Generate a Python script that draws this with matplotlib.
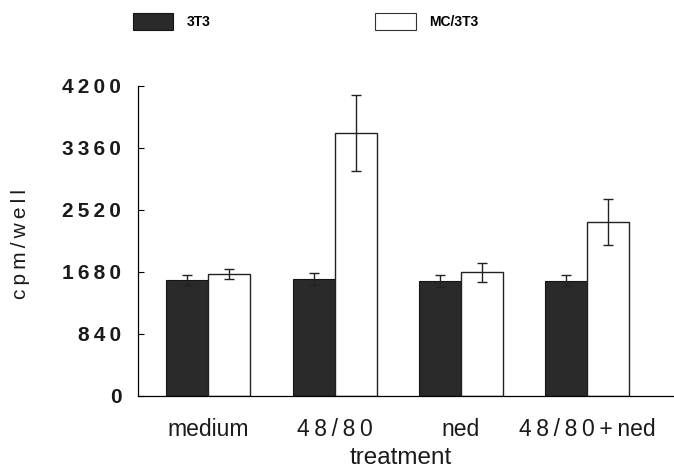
import matplotlib
matplotlib.use("Agg")
import matplotlib.pyplot as plt
import numpy as np
from matplotlib.patches import Patch

categories = ["medium", "48/80", "ned", "48/80+ned"]
series_names = ["3T3", "MC/3T3"]
vals_3t3 = [1567, 1581, 1554, 1558]
err_3t3 = [70, 80, 85, 75]
vals_mc = [1653, 3559, 1672, 2353]
err_mc = [70, 510, 126, 315]
yticks = [0, 840, 1680, 2520, 3360, 4200]

TS = "\u2009"  # thin space used as letter-spacing


def spaced_digits(s):
    # widen spacing between digits / symbols like the original typeface
    out = ""
    for i, ch in enumerate(s):
        out += ch
        if i < len(s) - 1 and not (ch.isalpha() and s[i + 1].isalpha()):
            out += TS
    return out


plt.rcParams['font.family'] = ['Liberation Sans', 'DejaVu Sans']

fig = plt.figure(figsize=(6.74, 4.68), dpi=100)
ax = fig.add_axes([138/674, 1-395.7/468, (674-138)/674, (395.7-85.7)/468])

x = np.arange(len(categories))
w = 0.333
ekw = dict(elinewidth=1.0, capthick=1.0, ecolor='#222222')
ax.bar(x - w/2, vals_3t3, w, color='#2a2a2a', edgecolor='#151515', linewidth=0.8,
       yerr=err_3t3, capsize=3.5, error_kw=ekw, label=series_names[0])
ax.bar(x + w/2, vals_mc, w, color='white', edgecolor='#222222', linewidth=1.0,
       yerr=err_mc, capsize=3.5, error_kw=ekw, label=series_names[1])

ax.set_xlim(-0.557, 3.686)
ax.set_ylim(0, 4200)
ax.set_yticks(yticks)
ax.set_yticklabels([spaced_digits(str(t)) for t in yticks],
                   fontsize=15, fontweight='bold', color='#1a1a1a')
ax.set_xticks(x)
ax.set_xticklabels([spaced_digits(c) for c in categories], fontsize=16.5, color='#1a1a1a')
ax.tick_params(axis='y', direction='in', length=4, width=0.8, pad=12)
ax.tick_params(axis='x', length=0, pad=16)
ax.spines['top'].set_visible(False)
ax.spines['right'].set_visible(False)
ax.spines['left'].set_linewidth(0.9)
ax.spines['bottom'].set_linewidth(0.9)
ax.set_ylabel(TS.join("cpm/well"), fontsize=15, color='#1a1a1a')
ax.yaxis.set_label_coords(-(138-21)/536, 0.5 - (244-240.7)/310)
ax.set_xlabel("treatment", fontsize=17.5, color='#1a1a1a')
ax.xaxis.set_label_coords((401-138)/536, -(458-395.7)/310)
ax.xaxis.label.set_va('center')
ax.yaxis.label.set_va('center')

handles = [Patch(facecolor='#2a2a2a', edgecolor='#151515', linewidth=0.8),
           Patch(facecolor='white', edgecolor='#333333', linewidth=0.8)]
fig.legend(handles, series_names, loc='upper left', bbox_to_anchor=(120/674, 1 - 0/468),
           ncol=2, frameon=False, handlelength=2.95, handleheight=1.6,
           handletextpad=0.95, columnspacing=11.85,
           prop={'weight': 'bold', 'size': 10})

fig.savefig("out.png", dpi=100, facecolor='white')
